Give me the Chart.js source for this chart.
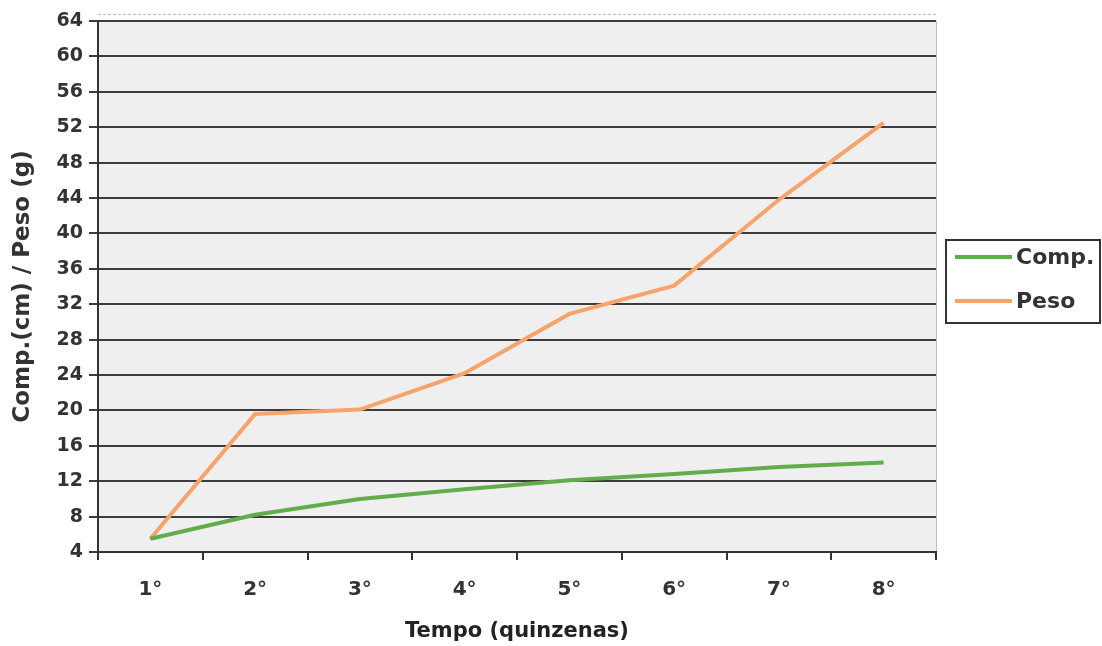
<!DOCTYPE html>
<html><head><meta charset="utf-8">
<script src="https://cdn.jsdelivr.net/npm/chart.js@4"></script>
<style>html,body{margin:0;padding:0;background:#fff}#w{width:1102px;height:646px}</style>
</head><body><div id="w"><canvas id="c" width="1102" height="646"></canvas></div>
<script>
const categories = ['1°','2°','3°','4°','5°','6°','7°','8°'];
const compValues = [5.5, 8.2, 10.0, 11.1, 12.1, 12.8, 13.6, 14.1];
const pesoValues = [5.5, 19.6, 20.1, 24.2, 30.9, 34.1, 43.8, 52.5];
const seriesNames = ['Comp.', 'Peso'];
const yTitle = 'Comp.(cm) / Peso (g)';
const xTitle = 'Tempo (quinzenas)';

const txt = '#333333';
const fontFam = '"DejaVu Sans", "Liberation Sans", Arial, sans-serif';

const bgPlugin = {
  id: 'bg',
  beforeDraw(chart) {
    const {ctx, chartArea: a} = chart;
    ctx.save();
    ctx.fillStyle = '#efefef';
    ctx.fillRect(a.left, a.top, a.right - a.left, a.bottom - a.top);
    ctx.strokeStyle = '#bdbdbd';
    ctx.lineWidth = 1;
    ctx.beginPath();
    ctx.moveTo(a.right + 0.5, a.top);
    ctx.lineTo(a.right + 0.5, a.bottom);
    ctx.stroke();
    ctx.setLineDash([3, 2]);
    ctx.beginPath();
    ctx.moveTo(a.left, a.top - 6.5);
    ctx.lineTo(a.right, a.top - 6.5);
    ctx.stroke();
    ctx.restore();
  },
  afterDraw(chart) {
    const {ctx} = chart;
    ctx.save();
    const bx = 946, by = 240, bw = 154, bh = 83;
    ctx.strokeStyle = '#333';
    ctx.lineWidth = 2;
    ctx.strokeRect(bx, by, bw, bh);
    ctx.font = 'bold 22px ' + fontFam;
    ctx.textBaseline = 'middle';
    ctx.fillStyle = txt;
    chart.data.datasets.forEach((ds, i) => {
      const y = by + 17 + i * 44;
      ctx.strokeStyle = ds.borderColor;
      ctx.lineWidth = 4;
      ctx.beginPath();
      ctx.moveTo(955, y);
      ctx.lineTo(1012, y);
      ctx.stroke();
      ctx.fillText(ds.label, 1016, y + 1);
    });
    ctx.restore();
  }
};

new Chart(document.getElementById('c'), {
  type: 'line',
  data: {
    labels: categories,
    datasets: [
      {label: seriesNames[0], data: compValues, borderColor: '#62ad4b', borderWidth: 4, pointRadius: 0, tension: 0, fill: false},
      {label: seriesNames[1], data: pesoValues, borderColor: '#f7a36c', borderWidth: 4, pointRadius: 0, tension: 0, fill: false}
    ]
  },
  options: {
    responsive: false,
    animation: false,
    layout: {padding: {top: 21, right: 166, left: 0, bottom: 0}},
    plugins: {legend: {display: false}, tooltip: {enabled: false}},
    scales: {
      x: {
        offset: true,
        afterFit(s) { s.height = 94; },
        grid: {offset: true, drawOnChartArea: false, drawTicks: true, tickLength: 8, color: '#333', lineWidth: 2},
        border: {display: true, color: '#333', width: 2},
        ticks: {color: txt, padding: 18, font: {family: fontFam, size: 20, weight: 'bold'}, maxRotation: 0},
        title: {display: true, text: xTitle, color: '#222', padding: {top: 0, bottom: 2}, font: {family: fontFam, size: 21, weight: 'bold'}}
      },
      y: {
        min: 4, max: 64,
        afterFit(s) { s.width = 98; },
        grid: {color: '#3c3c3c', lineWidth: 2, tickLength: 9, drawTicks: true},
        border: {display: true, color: '#333', width: 2},
        ticks: {stepSize: 4, color: txt, padding: 6, font: {family: fontFam, size: 19, weight: 'bold'}},
        title: {display: true, text: yTitle, color: '#333', padding: {top: 9, bottom: 0}, font: {family: fontFam, size: 23, weight: 'bold'}}
      }
    }
  },
  plugins: [bgPlugin]
});
</script>
</body></html>
